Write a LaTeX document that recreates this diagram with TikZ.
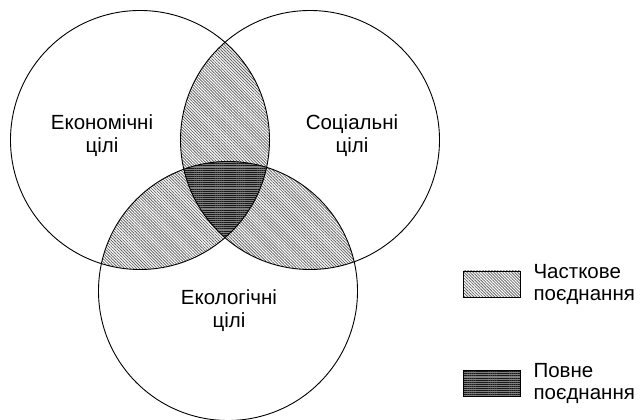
\documentclass[tikz,border=0pt]{standalone}
\usepackage{fontspec}
\setmainfont{Liberation Sans}
\usetikzlibrary{patterns.meta}
\usetikzlibrary{positioning}

\begin{document}
\begin{tikzpicture}[x=1pt, y=1pt, node distance=13pt,
                    goal/.style = {draw, line width=0.9pt},
                    partial/.style = {pattern={Lines[angle=-45, distance=2.1pt, line width=0.8pt]},
                                      pattern color=black!60},
                    full/.style = {preaction={fill=black!50},
                                   pattern={Lines[angle=0, distance=2.1pt, line width=0.9pt]},
                                   pattern color=black!90},
                    label/.style = {align=center, inner sep=0pt,
                                    font=\fontsize{20.5}{23}\selectfont},
                    legbox/.style = {draw, line width=0.7pt, minimum width=57pt,
                                     minimum height=26pt, inner sep=0pt},
                    legtext/.style = {align=left, inner sep=0pt, anchor=west,
                                      font=\fontsize{20.5}{22}\selectfont}]
  \useasboundingbox (0,0) rectangle (640,420);
  \def\rad{129.5}
  \coordinate (econ) at (140,280);
  \coordinate (soc) at (310,280);
  \coordinate (eco) at (228,129);

  % pairwise overlaps
  \begin{scope}
    \clip (econ) circle (\rad);
    \fill [partial] (soc) circle (\rad);
    \fill [partial] (eco) circle (\rad);
  \end{scope}
  \begin{scope}
    \clip (soc) circle (\rad);
    \fill [partial] (eco) circle (\rad);
  \end{scope}
  % all three
  \begin{scope}
    \clip (econ) circle (\rad);
    \clip (soc) circle (\rad);
    \fill [full] (eco) circle (\rad);
  \end{scope}

  \draw [goal] (econ) circle (\rad);
  \draw [goal] (soc) circle (\rad);
  \draw [goal] (eco) circle (\rad);

  \node [label] (econtext) at (102,284) {Економічні\\цілі};
  \node [label] (soctext) at (352,284) {Соціальні\\цілі};
  \node [label] (ecotext) at (229,109) {Екологічні\\цілі};

  % legend
  \node [legbox, partial] (partbox) at (491.5,136) {};
  \node [legbox, full] (fullbox) at (491.5,36.5) {};
  \node [legtext] (parttext) [right=of partbox.east] {Часткове\\поєднання};
  \node [legtext] (fulltext) [right=of fullbox.east] {Повне\\поєднання};
\end{tikzpicture}
\end{document}
